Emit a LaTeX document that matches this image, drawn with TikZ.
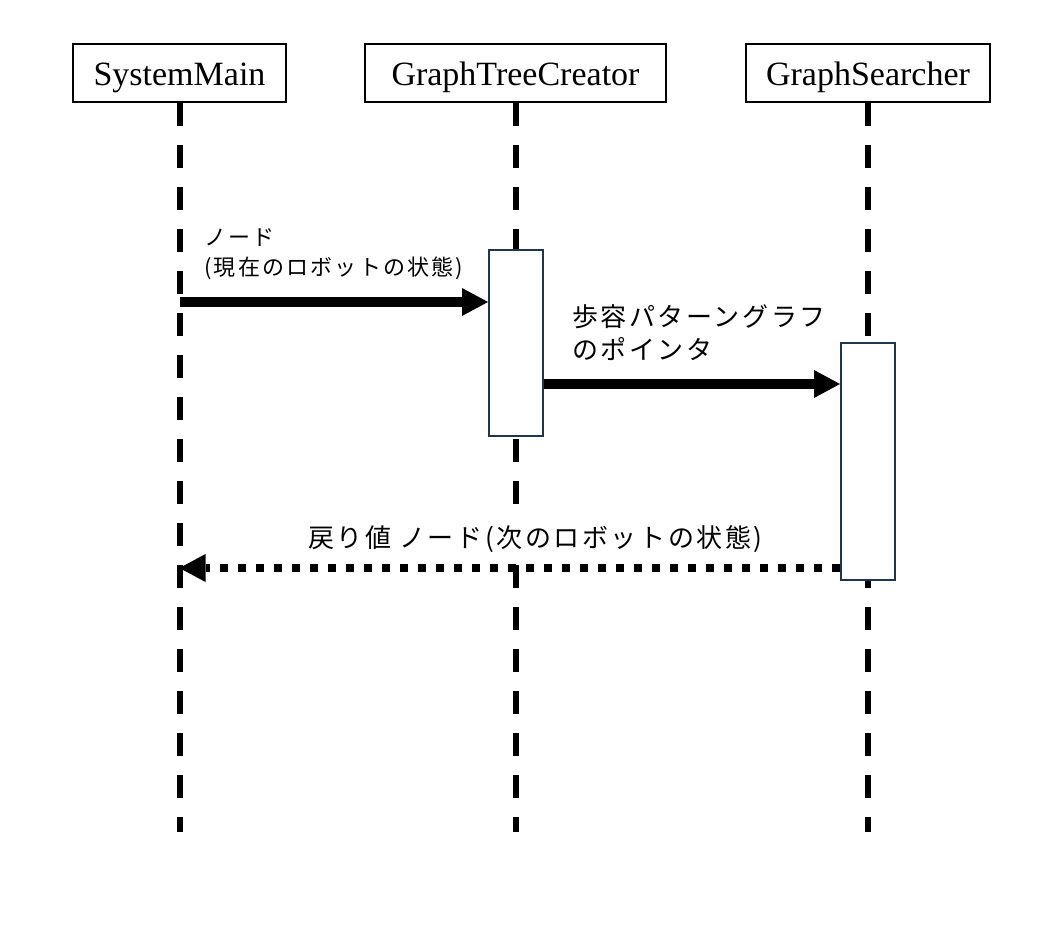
\documentclass[tikz,border=0pt]{standalone}
\usepackage{fontspec}
\setmainfont{Liberation Serif}
\newfontfamily\jp{Noto Sans CJK JP}[LetterSpace=10]
\usetikzlibrary{arrows.meta}
\definecolor{navy}{HTML}{1F3550}
\begin{document}
\begin{tikzpicture}[x=1pt,y=-1pt,
  head/.style={draw,line width=2pt,minimum height=58pt,inner sep=0pt,text height=26pt,text depth=0pt,font=\fontsize{34}{40}\selectfont},
  life/.style={line width=6pt,dash pattern=on 23pt off 19pt},
  act/.style={draw=navy,line width=2pt,fill=white,minimum width=54pt,inner sep=0pt},
  msg/.style={line width=10pt,-{Triangle[length=26pt,width=28pt,line width=0pt]}},
  ret/.style={line width=8pt,dash pattern=on 8pt off 10pt,-{Triangle[length=26pt,width=28pt,line width=0pt]}},
  lblS/.style={font=\jp\fontsize{22}{26}\selectfont,inner sep=0pt,anchor=base west},
  lblL/.style={font=\jp\fontsize{26}{32}\selectfont,inner sep=0pt,anchor=base west}]
\useasboundingbox[fill=white] (0,0) rectangle (1055,947);
% headers
\node[head,minimum width=213pt] (sm) at (179.5,73) {SystemMain};
\node[head,minimum width=301pt] (gtc) at (515.5,73) {GraphTreeCreator};
\node[head,minimum width=244pt] (gs) at (868,73) {GraphSearcher};
% lifeline ends
\coordinate (smEnd) at (179.5,832);
\coordinate (gtcEnd) at (515.5,832);
\coordinate (gsEnd) at (868,832);
\draw[life] (sm.south) -- (smEnd);
\draw[life] (gtc.south) -- (gtcEnd);
\draw[life] (gs.south) -- (gsEnd);
% activations
\node[act,minimum height=186pt] (act1) at (516,343) {};
\node[act,minimum height=237pt] (act2) at (868,461.5) {};
% messages
\coordinate (m1) at (180,302);
\draw[msg] (m1) -- (m1 -| act1.west);
\coordinate (m2) at (act1.east |- 0,384);
\draw[msg] (m2) -- (m2 -| act2.west);
\coordinate (m3) at (act2.west |- 0,568);
\draw[ret] (m3) -- (m3 -| sm.south);
% labels
\node[lblS] (l1a) at (204,245) {ノード};
\node[lblS] (l1b) at (204,275) {(現在のロボットの状態)};
\node[lblL] (l2a) at (572,326) {歩容パターングラフ};
\node[lblL] (l2b) at (572,359) {のポインタ};
\node[lblL,fill=white,inner sep=2pt] (l3) at (306,547) {戻り値\hspace{8pt}ノード(次のロボットの状態)};
\end{tikzpicture}
\end{document}
